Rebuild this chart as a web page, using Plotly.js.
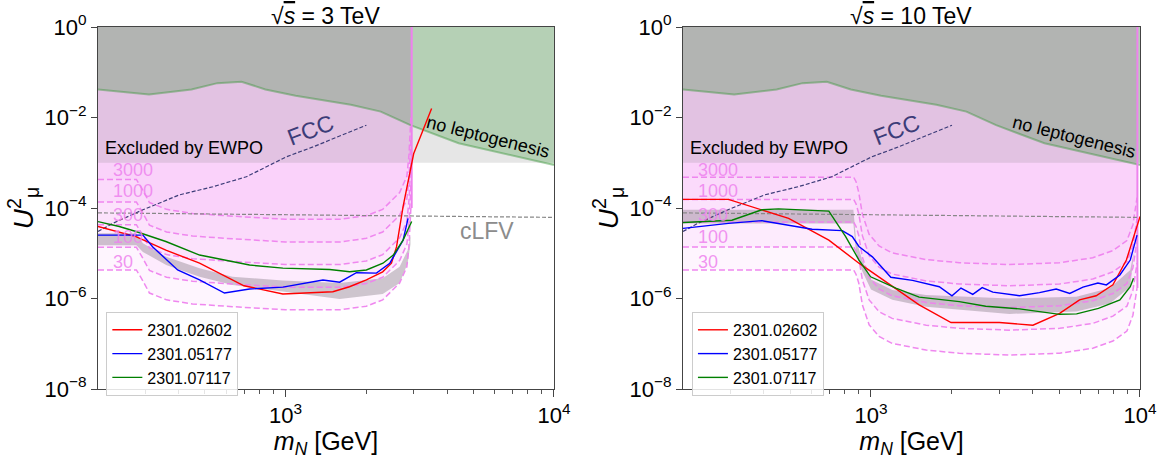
<!DOCTYPE html>
<html><head><meta charset="utf-8">
<script src="https://cdn.plot.ly/plotly-3.0.1.min.js"></script>
<style>html,body{margin:0;padding:0;background:#fff}</style>
</head><body><div id="chart" style="width:1167px;height:459px"></div>
<script>
// ---------- axis limits ----------
const xMin = 200, xMax = 10000, yMin = 1e-8, yMax = 1;
const ewpoLevel = 1e-3;
const asymL = 2950, asymR = 9780;

// ---------- no-leptogenesis boundary (both panels) ----------
const leptoM = [200, 310, 446, 557, 685, 841, 1090, 1750, 2262, 2918, 4413, 6880, 10000];
const leptoU = [4.17e-2, 3.24e-2, 4.17e-2, 5.75e-2, 6.17e-2, 4.17e-2, 3.02e-2, 1.91e-2, 1.35e-2, 6.76e-3, 2.69e-3, 1.48e-3, 8.91e-4];

// ---------- FCC and cLFV (both panels) ----------
const fccM = [200, 227, 294, 402, 536, 714, 1006, 1265, 2000];
const fccU = [3.02e-5, 4.57e-5, 9.12e-5, 1.95e-4, 2.95e-4, 4.90e-4, 1.35e-3, 2.24e-3, 6.76e-3];
const clfvM = [200, 1000, 10000];
const clfvU = [7.8e-5, 7.1e-5, 6.2e-5];

// ---------- contour levels ----------
const levelLabels = ["3000", "1000", "300", "100", "30"];

// sqrt(s) = 3 TeV contours
const mContL = [200, 278, 290, 311, 360, 450, 634, 1000, 1600, 2000, 2300, 2660, 2830, 2880, 2930];
const contL30   = [4.27e-6, 4.27e-6, 2.82e-6, 1.32e-6, 9.33e-7, 7.59e-7, 6.61e-7, 5.62e-7, 5.62e-7, 6.76e-7, 9.33e-7, 2.19e-6, 5.01e-6, 1.38e-5, 1.0e-4];
const contL100  = [1.35e-5, 1.35e-5, 8.91e-6, 4.17e-6, 2.95e-6, 2.40e-6, 2.09e-6, 1.78e-6, 1.78e-6, 2.14e-6, 2.95e-6, 6.92e-6, 1.58e-5, 4.37e-5, 3.16e-4];
const contL300  = [4.27e-5, 4.27e-5, 2.82e-5, 1.32e-5, 9.33e-6, 7.59e-6, 6.61e-6, 5.62e-6, 5.62e-6, 6.76e-6, 9.33e-6, 2.19e-5, 5.01e-5, 1.38e-4, 1.0e-3];
const contL1000 = [1.35e-4, 1.35e-4, 8.91e-5, 4.17e-5, 2.95e-5, 2.40e-5, 2.09e-5, 1.78e-5, 1.78e-5, 2.14e-5, 2.95e-5, 6.92e-5, 1.58e-4, 4.37e-4, 3.16e-3];
const contL3000 = [4.27e-4, 4.27e-4, 2.82e-4, 1.32e-4, 9.33e-5, 7.59e-5, 6.61e-5, 5.62e-5, 5.62e-5, 6.76e-5, 9.33e-5, 2.19e-4, 5.01e-4, 1.38e-3, 1.0e-2];

// sqrt(s) = 10 TeV contours
const mContR = [200, 862, 880, 900, 929, 984, 1071, 1198, 1603, 2128, 3274, 5027, 6677, 7930, 8939, 9413, 9750];
const contR30   = [4.27e-6, 4.27e-6, 3.39e-6, 2.24e-6, 7.24e-7, 2.63e-7, 1.45e-7, 1.02e-7, 7.24e-8, 6.17e-8, 5.62e-8, 6.17e-8, 7.94e-8, 1.15e-7, 1.91e-7, 4.27e-7, 1.70e-6];
const contR100  = [1.38e-5, 1.38e-5, 1.10e-5, 7.94e-6, 2.57e-6, 9.33e-7, 5.13e-7, 3.63e-7, 2.57e-7, 2.19e-7, 2.0e-7, 2.19e-7, 2.82e-7, 4.07e-7, 6.76e-7, 1.51e-6, 6.03e-6];
const contR300  = [4.90e-5, 4.90e-5, 3.89e-5, 2.51e-5, 8.13e-6, 2.95e-6, 1.62e-6, 1.15e-6, 8.13e-7, 6.92e-7, 6.31e-7, 6.92e-7, 8.91e-7, 1.29e-6, 2.14e-6, 4.79e-6, 1.91e-5];
const contR1000 = [1.55e-4, 1.55e-4, 1.23e-4, 7.59e-5, 2.45e-5, 8.91e-6, 4.90e-6, 3.47e-6, 2.45e-6, 2.09e-6, 1.91e-6, 2.09e-6, 2.69e-6, 3.89e-6, 6.46e-6, 1.45e-5, 5.75e-5];
const contR3000 = [4.79e-4, 4.79e-4, 3.80e-4, 2.24e-4, 7.24e-5, 2.63e-5, 1.45e-5, 1.02e-5, 7.24e-6, 6.17e-6, 5.62e-6, 6.17e-6, 7.94e-6, 1.15e-5, 1.91e-5, 4.27e-5, 1.70e-4];

// ---------- grey bands ----------
const mBandL = [200, 278, 294, 359, 478, 634, 975, 1590, 2300, 2660, 2850, 2920];
const bandLHi = [2.75e-5, 2.75e-5, 1.66e-5, 8.32e-6, 4.68e-6, 3.02e-6, 2.51e-6, 2.19e-6, 2.82e-6, 5.01e-6, 1.17e-5, 2.51e-5];
const bandLLo = [1.51e-5, 1.51e-5, 1.07e-5, 5.50e-6, 3.02e-6, 2.0e-6, 1.41e-6, 9.77e-7, 1.26e-6, 2.19e-6, 6.03e-6, 1.58e-5];
const mBandR = [200, 860, 880, 928, 1000, 1200, 1600, 3270, 5800, 7730, 9200, 9460];
const bandRHi = [9.12e-5, 9.12e-5, 2.0e-5, 7.08e-6, 2.63e-6, 1.55e-6, 1.20e-6, 1.0e-6, 1.10e-6, 1.70e-6, 4.27e-6, 1.0e-5];
const bandRLo = [4.57e-5, 4.57e-5, 1.0e-5, 3.98e-6, 1.58e-6, 9.33e-7, 6.61e-7, 4.57e-7, 5.13e-7, 7.76e-7, 1.82e-6, 8.51e-6];

// ---------- experimental curves ----------
const seriesNames = ["2301.02602", "2301.05177", "2301.07117"];
// 3 TeV
const redLM = [200, 277, 358, 478, 700, 977, 1500, 1730, 2000, 2300, 2480, 2590, 2740, 3000, 3500];
const redLU = [3.89e-5, 2.34e-5, 1.17e-5, 6.03e-6, 1.91e-6, 1.26e-6, 1.41e-6, 1.82e-6, 2.57e-6, 3.89e-6, 6.03e-6, 1.38e-5, 1.07e-4, 1.58e-3, 1.58e-2];
const blueLM = [200, 294, 320, 396, 478, 592, 734, 977, 1378, 1590, 1836, 2180, 2445, 2740, 2860];
const blueLU = [2.51e-5, 2.51e-5, 1.38e-5, 4.27e-6, 2.57e-6, 1.32e-6, 1.62e-6, 1.78e-6, 2.57e-6, 2.29e-6, 3.72e-6, 3.63e-6, 6.03e-6, 1.95e-5, 5.89e-5];
const greenLM = [200, 240, 277, 358, 478, 635, 734, 977, 1460, 1733, 2000, 2306, 2520, 2740, 2950];
const greenLU = [5.01e-5, 3.89e-5, 3.02e-5, 1.82e-5, 9.12e-6, 6.46e-6, 5.50e-6, 4.68e-6, 4.37e-6, 3.89e-6, 4.27e-6, 6.03e-6, 9.12e-6, 1.95e-5, 5.01e-5];
// 10 TeV
const redRM = [200, 295, 494, 697, 902, 1201, 1510, 1984, 3003, 3999, 5027, 5959, 6870, 7930, 8900, 10000];
const redRU = [1.55e-4, 1.55e-4, 5.89e-5, 1.95e-5, 6.03e-6, 1.82e-6, 7.24e-7, 2.95e-7, 2.95e-7, 2.57e-7, 4.68e-7, 9.33e-7, 1.15e-6, 2.0e-6, 7.08e-6, 6.46e-5];
const blueRM = [200, 295, 393, 604, 782, 852, 902, 1012, 1185, 1427, 1794, 2000, 2160, 2390, 2590, 2838, 3564, 4230, 4880, 5482, 6137, 6976, 7500, 8420, 9200, 9750];
const blueRU = [3.55e-5, 4.57e-5, 5.25e-5, 3.39e-5, 3.16e-5, 2.34e-5, 1.41e-5, 8.32e-6, 2.95e-6, 2.51e-6, 1.82e-6, 1.15e-6, 1.70e-6, 1.23e-6, 1.74e-6, 1.38e-6, 1.15e-6, 1.35e-6, 1.62e-6, 1.29e-6, 1.78e-6, 2.19e-6, 2.0e-6, 3.31e-6, 7.08e-6, 2.51e-5];
const greenRM = [200, 304, 393, 453, 697, 805, 902, 997, 1237, 1510, 2130, 2670, 3564, 5027, 5812, 7007, 8420, 9200, 9460];
const greenRU = [4.79e-5, 5.37e-5, 9.12e-5, 9.55e-5, 8.51e-5, 2.34e-5, 7.08e-6, 3.02e-6, 1.70e-6, 1.07e-6, 8.51e-7, 6.76e-7, 5.89e-7, 4.47e-7, 4.57e-7, 6.03e-7, 9.33e-7, 1.82e-6, 2.82e-6];

// ---------- styles ----------
const FONT = "Liberation Sans, Arial, sans-serif";
const PINK_FILL = "rgba(238,130,238,0.078)";
const PINK_LINE = "rgba(238,130,238,0.95)";

function panel(xa, ya, legendId, d) {
  const tr = [];
  const base = {xaxis: xa, yaxis: ya, hoverinfo: "skip", showlegend: false, mode: "lines"};
  d.conts.forEach(c => {
    tr.push(Object.assign({}, base, {
      x: d.mCont.concat([d.asym, d.asym, xMin]),
      y: c.concat([c[c.length - 1], yMax, yMax]),
      fill: "toself", fillcolor: PINK_FILL, line: {width: 0}
    }));
  });
  tr.push(Object.assign({}, base, {
    x: [xMin, xMax, xMax, xMin], y: [ewpoLevel, ewpoLevel, yMax, yMax],
    fill: "toself", fillcolor: "rgba(128,128,128,0.2)", line: {width: 0}
  }));
  tr.push(Object.assign({}, base, {
    x: leptoM.concat([xMax, xMin]), y: leptoU.concat([yMax, yMax]),
    fill: "toself", fillcolor: "rgba(0,128,0,0.21)", line: {width: 0}
  }));
  tr.push(Object.assign({}, base, {
    x: leptoM, y: leptoU, line: {color: "rgba(60,150,60,0.45)", width: 2}
  }));
  tr.push(Object.assign({}, base, {
    x: d.mBand.concat(d.mBand.slice().reverse()),
    y: d.bandHi.concat(d.bandLo.slice().reverse()),
    fill: "toself", fillcolor: "rgba(110,100,110,0.33)", line: {width: 0}
  }));
  d.conts.forEach(c => {
    tr.push(Object.assign({}, base, {
      x: d.mCont, y: c, line: {color: PINK_LINE, width: 1.5, dash: "6px,3px"}
    }));
  });
  const low = d.conts[d.conts.length - 1];
  tr.push(Object.assign({}, base, {
    x: [d.asym, d.asym], y: [low[low.length - 1], yMax],
    line: {color: "rgba(238,130,238,1)", width: 2}
  }));
  tr.push(Object.assign({}, base, {
    x: clfvM, y: clfvU, line: {color: "#888888", width: 1.2, dash: "4px,2px"}
  }));
  tr.push(Object.assign({}, base, {
    x: fccM, y: fccU, line: {color: "#3c3c78", width: 1.2, dash: "4px,2px"}
  }));
  const cols = ["#ff0000", "#0000ff", "#008000"];
  d.curves.forEach((c, i) => {
    tr.push({x: c[0], y: c[1], xaxis: xa, yaxis: ya, mode: "lines", name: seriesNames[i],
      line: {color: cols[i], width: 1.4}, legend: legendId, showlegend: true, hoverinfo: "skip"});
  });
  return tr;
}

const traces = [].concat(
  panel("x", "y", "legend", {
    mCont: mContL, conts: [contL3000, contL1000, contL300, contL100, contL30], asym: asymL,
    mBand: mBandL, bandHi: bandLHi, bandLo: bandLLo,
    curves: [[redLM, redLU], [blueLM, blueLU], [greenLM, greenLU]]
  }),
  panel("x2", "y2", "legend2", {
    mCont: mContR, conts: [contR3000, contR1000, contR300, contR100, contR30], asym: asymR,
    mBand: mBandR, bandHi: bandRHi, bandLo: bandRLo,
    curves: [[redRM, redRU], [blueRM, blueRU], [greenRM, greenRU]]
  })
);

// ---------- text ----------
const levelY = [-3.16, -3.62, -4.15, -4.63, -5.19];
function panelAnn(xr, yr, title, withClfv) {
  const a = [];
  a.push({xref: xr + " domain", yref: yr + " domain", x: 0.5, y: 1, yanchor: "bottom", yshift: -4,
    showarrow: false, text: title, font: {size: 23, color: "#000", family: FONT}});
  a.push({xref: xr, yref: yr, x: 2.318, y: -2.67, xanchor: "left", showarrow: false,
    text: "Excluded by EWPO", font: {size: 18, color: "#000", family: FONT}});
  a.push({xref: xr, yref: yr, x: 3.093, y: -2.28, showarrow: false, textangle: -21,
    text: "FCC", font: {size: 23, color: "#3c3c78", family: FONT}});
  a.push({xref: xr, yref: yr, x: 3.755, y: -2.43, showarrow: false, textangle: 14,
    text: "no leptogenesis", font: {size: 18, color: "#000", family: FONT}});
  if (withClfv) a.push({xref: xr, yref: yr, x: 3.75, y: -4.51, showarrow: false,
    text: "cLFV", font: {size: 23, color: "#8c8c8c", family: FONT}});
  levelLabels.forEach((t, i) => a.push({xref: xr, yref: yr, x: 2.35, y: levelY[i], xanchor: "left",
    showarrow: false, text: t, font: {size: 18, color: "rgba(238,130,238,0.85)", family: FONT}}));
  return a;
}
const titleL = "√<span style=\"text-decoration:overline\"><i>s</i></span> = 3 TeV";
const titleR = "√<span style=\"text-decoration:overline\"><i>s</i></span> = 10 TeV";

const yTicks = [1e-8, 1e-6, 1e-4, 1e-2, 1];
const yTickText = ["10<sup>−8</sup>", "10<sup>−6</sup>", "10<sup>−4</sup>", "10<sup>−2</sup>", "10<sup>0</sup>"];
const xTicks = [1000, 10000];
const xTickText = ["10<sup>3</sup>", "10<sup>4</sup>"];
const xMinor = [300, 400, 500, 600, 700, 800, 900, 2000, 3000, 4000, 5000, 6000, 7000, 8000, 9000];

function xAxis(domain, anchor) {
  return {type: "log", domain: domain, anchor: anchor, range: [Math.log10(xMin), Math.log10(xMax)],
    tickvals: xTicks, ticktext: xTickText, ticks: "outside", ticklen: 7, tickcolor: "#444",
    minor: {tickvals: xMinor, ticks: "outside", ticklen: 4, tickcolor: "#555"},
    showgrid: false, zeroline: false, showline: true, linecolor: "#444", linewidth: 1, mirror: true,
    tickfont: {size: 22, family: FONT, color: "#000"},
    title: {text: "<i>m</i><sub><i>N</i></sub> [GeV]", font: {size: 25, family: FONT, color: "#000"}, standoff: 0}};
}
function yAxis(anchor) {
  return {type: "log", anchor: anchor, domain: [0, 1], range: [-8, 0],
    tickvals: yTicks, ticktext: yTickText, ticks: "outside", ticklen: 6, tickcolor: "#444",
    showgrid: false, zeroline: false, showline: true, linecolor: "#444", linewidth: 1, mirror: true,
    tickfont: {size: 22, family: FONT, color: "#000"},
    title: {text: "<i>U</i><sup>2</sup><sub>μ</sub>", font: {size: 28, family: FONT, color: "#000"}, standoff: 2}};
}

const legendStyle = {xanchor: "left", yanchor: "top", bgcolor: "rgba(255,255,255,0.85)",
  bordercolor: "#cccccc", borderwidth: 1, font: {size: 16, family: FONT, color: "#000"}, itemwidth: 30};

const layout = {
  width: 1167, height: 459, paper_bgcolor: "#fff", plot_bgcolor: "#fff",
  margin: {l: 98, r: 27, t: 27, b: 70},
  font: {family: FONT},
  xaxis: xAxis([0, 0.4376], "y"),
  yaxis: yAxis("x"),
  xaxis2: xAxis([0.5614, 1], "y2"),
  yaxis2: yAxis("x2"),
  legend: Object.assign({x: 0.008, y: 0.213}, legendStyle),
  legend2: Object.assign({x: 0.570, y: 0.213}, legendStyle),
  annotations: panelAnn("x", "y", titleL, true).concat(panelAnn("x2", "y2", titleR, false))
};

Plotly.newPlot("chart", traces, layout, {staticPlot: true, displayModeBar: false});
</script></body></html>
